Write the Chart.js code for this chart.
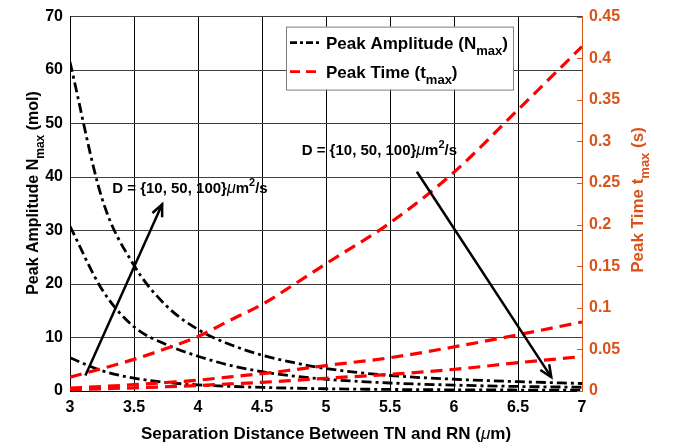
<!DOCTYPE html>
<html><head><meta charset="utf-8">
<script src="https://cdn.jsdelivr.net/npm/chart.js@4/dist/chart.umd.min.js"></script>
<style>html,body{margin:0;padding:0;background:#fff}</style>
</head><body>
<canvas id="c" width="678" height="448"></canvas>
<script>
// ---- data ----
const distance = [3, 3.25, 3.5, 3.75, 4, 4.25, 4.5, 4.75, 5, 5.5, 6, 6.5, 7];
const nmaxD100 = [61.5, 36, 23.5, 16, 11.5, 8.7, 6.7, 5.3, 4.2, 2.9, 2.2, 1.75, 1.4];
const nmaxD50  = [30.8, 19, 12, 8.7, 6.5, 4.8, 3.6, 2.8, 2.2, 1.5, 1.1, 0.85, 0.7];
const nmaxD10  = [6.2, 3.8, 2.4, 1.6, 1.15, 0.87, 0.67, 0.53, 0.42, 0.29, 0.22, 0.18, 0.14];
const tmaxD10  = [0.0167, 0.027, 0.038, 0.051, 0.0655, 0.085, 0.104, 0.128, 0.153, 0.202, 0.263, 0.338, 0.414];
const tmaxD50  = [0.0034, 0.0054, 0.0076, 0.0102, 0.013, 0.017, 0.0208, 0.0256, 0.0306, 0.040, 0.053, 0.0676, 0.083];
const tmaxD100 = [0.0017, 0.0027, 0.0038, 0.0051, 0.0066, 0.0085, 0.0104, 0.0128, 0.0153, 0.020, 0.026, 0.034, 0.0414];
const xTickValues = [3, 3.5, 4, 4.5, 5, 5.5, 6, 6.5, 7];
const leftTickValues = [0, 10, 20, 30, 40, 50, 60, 70];
const rightTickValues = [0, 0.05, 0.1, 0.15, 0.2, 0.25, 0.3, 0.35, 0.4, 0.45];
// annotation arrows (tail -> head, in data units of x / left axis)
const arrowTailX = [3.12, 5.71];
const arrowTailY = [2.9, 41.0];
const arrowHeadX = [3.72, 6.76];
const arrowHeadY = [34.9, 2.6];
const noteX = [3.33, 4.81];
const noteY = [38, 45.1];

const FONT = '"Liberation Sans", Arial, Helvetica, sans-serif';
const ORANGE = '#D95319';
const pts = (ys) => distance.map((x, i) => ({x: x, y: ys[i]}));

function font(p){ return (p.italic ? 'italic ' : '') + (p.bold === false ? 'normal ' : 'bold ') + p.size + 'px ' + FONT; }
function richWidth(ctx, parts){ let w = 0; for (const p of parts){ ctx.font = font(p); w += ctx.measureText(p.t).width; } return w; }
function drawRich(ctx, parts, x, y, align, color){
  let w = richWidth(ctx, parts);
  let cx = align === 'center' ? x - w/2 : x;
  ctx.fillStyle = color; ctx.textBaseline = 'alphabetic'; ctx.textAlign = 'left';
  for (const p of parts){ ctx.font = font(p); ctx.fillText(p.t, cx, y + (p.dy || 0)); cx += ctx.measureText(p.t).width; }
}

const blackDash = [10, 4, 3, 4];
const redDash = [12, 7];

const extras = {
  id: 'extras',
  afterDraw(chart){
    const ctx = chart.ctx, a = chart.chartArea;
    const xs = chart.scales.x, ys = chart.scales.y, yr = chart.scales.y1;
    ctx.save();
    // right axis line and inward ticks
    ctx.strokeStyle = ORANGE; ctx.lineWidth = 1;
    ctx.beginPath(); ctx.moveTo(a.right + 0.5, a.top); ctx.lineTo(a.right + 0.5, a.bottom); ctx.stroke();
    for (const v of rightTickValues){
      const py = Math.round(yr.getPixelForValue(v)) + 0.5;
      ctx.beginPath(); ctx.moveTo(a.right - 5, py); ctx.lineTo(a.right, py); ctx.stroke();
    }
    // arrows
    ctx.strokeStyle = '#000'; ctx.lineWidth = 2.5; ctx.setLineDash([]);
    for (let i = 0; i < arrowTailX.length; i++){
      const x0 = xs.getPixelForValue(arrowTailX[i]), y0 = ys.getPixelForValue(arrowTailY[i]);
      const x1 = xs.getPixelForValue(arrowHeadX[i]), y1 = ys.getPixelForValue(arrowHeadY[i]);
      ctx.beginPath(); ctx.moveTo(x0, y0); ctx.lineTo(x1, y1); ctx.stroke();
      const ang = Math.atan2(y1 - y0, x1 - x0), L = 13, s = 0.42;
      ctx.beginPath();
      ctx.moveTo(x1 - L*Math.cos(ang - s), y1 - L*Math.sin(ang - s));
      ctx.lineTo(x1, y1);
      ctx.lineTo(x1 - L*Math.cos(ang + s), y1 - L*Math.sin(ang + s));
      ctx.stroke();
    }
    // notes
    const note = [
      {t: 'D = {10, 50, 100}', size: 15},
      {t: '\u03bc', size: 16, italic: true, bold: false},
      {t: 'm', size: 15},
      {t: '2', size: 11, dy: -7},
      {t: '/s', size: 15}
    ];
    for (let i = 0; i < noteX.length; i++){
      drawRich(ctx, note, xs.getPixelForValue(noteX[i]), ys.getPixelForValue(noteY[i]) + 5.5, 'left', '#000');
    }
    // legend
    const bx = a.right - 296, by = a.top + 10, bw = 227, bh = 63;
    ctx.fillStyle = '#fff'; ctx.fillRect(bx, by, bw, bh);
    ctx.strokeStyle = '#7f7f7f'; ctx.lineWidth = 1; ctx.strokeRect(bx + 0.5, by + 0.5, bw, bh);
    const rows = [
      {dash: [7, 3, 3, 3], color: '#000', w: 2.8, y: by + 16,
       parts: [{t: 'Peak Amplitude (N', size: 17}, {t: 'max', size: 13, dy: 6}, {t: ')', size: 17}]},
      {dash: [10, 6], color: '#ff0000', w: 2.8, y: by + 45,
       parts: [{t: 'Peak Time (t', size: 17}, {t: 'max', size: 13, dy: 6}, {t: ')', size: 17}]}
    ];
    for (const r of rows){
      ctx.strokeStyle = r.color; ctx.lineWidth = r.w; ctx.setLineDash(r.dash);
      ctx.beginPath(); ctx.moveTo(bx + 4, r.y); ctx.lineTo(bx + 36, r.y); ctx.stroke();
      ctx.setLineDash([]);
      drawRich(ctx, r.parts, bx + 40, r.y + 6, 'left', '#000');
    }
    // axis titles
    drawRich(ctx, [{t: 'Separation Distance Between TN and RN (', size: 17}, {t: '\u03bc', size: 17, italic: true, bold: false}, {t: 'm)', size: 17}],
      (a.left + a.right)/2, 439, 'center', '#000');
    ctx.save(); ctx.translate(38, 193); ctx.rotate(-Math.PI/2);
    drawRich(ctx, [{t: 'Peak Amplitude N', size: 16}, {t: 'max', size: 12, dy: 6}, {t: ' (mol)', size: 16}], 0, 0, 'center', '#000');
    ctx.restore();
    ctx.save(); ctx.translate(643, 200); ctx.rotate(-Math.PI/2);
    drawRich(ctx, [{t: 'Peak Time t', size: 17}, {t: 'max', size: 13, dy: 6}, {t: ' (s)', size: 17}], 0, 0, 'center', ORANGE);
    ctx.restore();
    ctx.restore();
  }
};

const lineDs = (label, ys, color, dash, axis, width) => ({
  label: label, data: pts(ys), yAxisID: axis, borderColor: color, borderWidth: width,
  borderDash: dash, pointRadius: 0, fill: false, cubicInterpolationMode: 'monotone'
});

new Chart(document.getElementById('c'), {
  type: 'line',
  data: { datasets: [
    lineDs('Peak Time D=10', tmaxD10, '#ff0000', redDash, 'y1', 3.2),
    lineDs('Peak Time D=50', tmaxD50, '#ff0000', redDash, 'y1', 3.2),
    lineDs('Peak Time D=100', tmaxD100, '#ff0000', redDash, 'y1', 3.2),
    lineDs('Peak Amplitude D=100', nmaxD100, '#000000', blackDash, 'y', 2.8),
    lineDs('Peak Amplitude D=50', nmaxD50, '#000000', blackDash, 'y', 2.8),
    lineDs('Peak Amplitude D=10', nmaxD10, '#000000', blackDash, 'y', 2.8)
  ]},
  options: {
    responsive: false, animation: false,
    layout: { padding: { top: 6, left: 0, right: 0, bottom: 0 } },
    plugins: { legend: { display: false }, tooltip: { enabled: false }, title: { display: false } },
    scales: {
      x: {
        type: 'linear', min: 3, max: 7,
        afterFit: (s) => { s.height = 57; },
        afterBuildTicks: (s) => { s.ticks = xTickValues.map(v => ({value: v})); },
        ticks: { color: '#000', font: { family: FONT, size: 16, weight: 'bold' }, padding: 7, maxRotation: 0,
                 callback: (v) => String(v) },
        grid: { color: '#000', lineWidth: 1, drawTicks: false },
        border: { color: '#000', width: 1 }
      },
      y: {
        position: 'left', min: 0, max: 70,
        afterFit: (s) => { s.width = 70; },
        afterBuildTicks: (s) => { s.ticks = leftTickValues.map(v => ({value: v})); },
        ticks: { color: '#000', font: { family: FONT, size: 16, weight: 'bold' }, padding: 7,
                 callback: (v) => String(v) },
        grid: { color: '#404040', lineWidth: 1, drawTicks: false },
        border: { color: '#000', width: 1 }
      },
      y1: {
        position: 'right', min: 0, max: 0.45,
        afterFit: (s) => { s.width = 96; },
        afterBuildTicks: (s) => { s.ticks = rightTickValues.map(v => ({value: v})); },
        ticks: { color: ORANGE, font: { family: FONT, size: 16, weight: 'bold' }, padding: 7,
                 callback: (v) => String(Number(v.toFixed(2))) },
        grid: { display: false, drawTicks: false },
        border: { color: ORANGE, width: 1 }
      }
    }
  },
  plugins: [extras]
});
</script>
</body></html>
